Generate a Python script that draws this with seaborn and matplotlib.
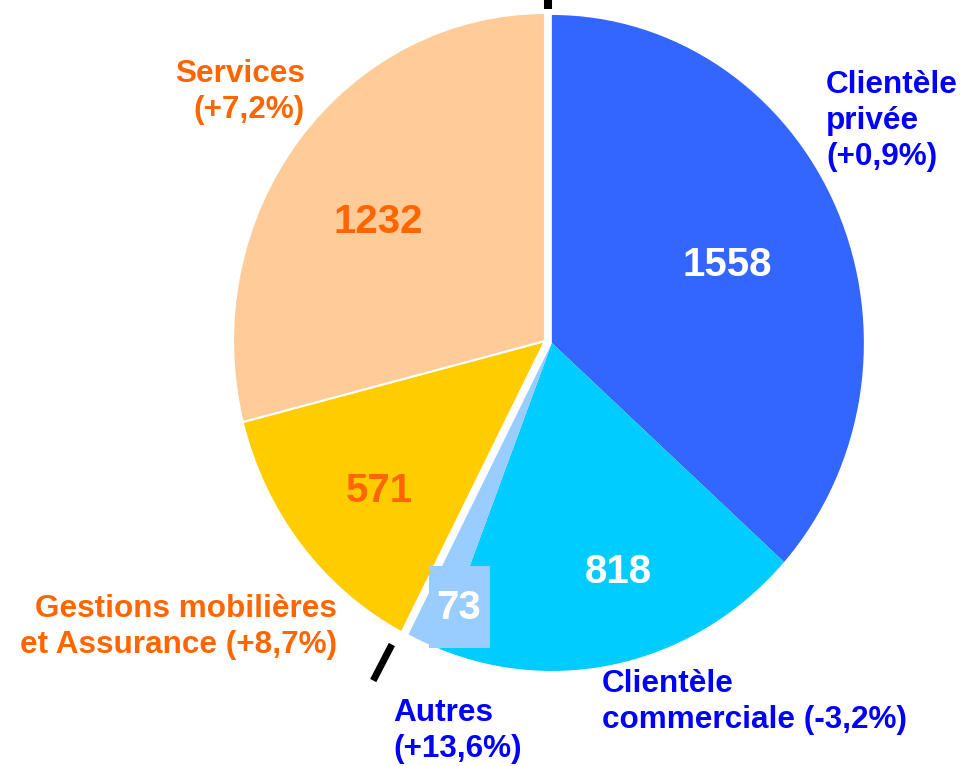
import matplotlib
matplotlib.use("Agg")
import numpy as np
import matplotlib.pyplot as plt
import seaborn as sns
from matplotlib.patches import Rectangle

# --- data ---
segments = ["Clientèle privée", "Clientèle commerciale", "Autres",
            "Gestions mobilières et Assurance", "Services"]
values = [1558, 818, 73, 571, 1232]
labels = ["Clientèle\nprivée\n(+0,9%)",
          "Clientèle\ncommerciale (-3,2%)",
          "Autres\n(+13,6%)",
          "Gestions mobilières\net Assurance (+8,7%)",
          "Services\n(+7,2%)"]
colors = ["#3366FF", "#00CCFF", "#99CCFF", "#FFCC00", "#FFCC99"]
label_colors = ["#0000FF", "#0000FF", "#0000FF", "#FF6600", "#FF6600"]
value_colors = ["white", "white", "white", "#FF6600", "#FF6600"]

# --- geometry (pixels of the 967x766 picture) ---
W, H = 967, 766
CX, CY, RX, RY = 545, 341, 312, 328
SHIFT = (0.022, -0.006)   # right half of the pie is pulled a little away


def px(x, y):
    return (x - CX) / RX, -(y - CY) / RY


sns.set_theme(style="white")
plt.rcParams['font.family'] = ['Liberation Sans', 'DejaVu Sans']

fig = plt.figure(figsize=(W / 100, H / 100), dpi=100)
ax = fig.add_axes([0, 0, 1, 1])

wedges, _ = ax.pie(values, colors=colors, startangle=90, counterclock=False,
                   wedgeprops=dict(linewidth=0))
for w in wedges[:3]:
    w.set_center(SHIFT)
for w in wedges[3:]:
    w.set_edgecolor("white")
    w.set_linewidth(1.5)

ax.set_aspect("auto")
x0, y0 = px(0, H)
x1, y1 = px(W, 0)
ax.set_xlim(x0, x1)
ax.set_ylim(y0, y1)
ax.axis("off")

# black split marks at both ends of the gap
cum = np.cumsum(values) / np.sum(values)
ox, oy = SHIFT[0] / 2, SHIFT[1] / 2
for frac, tilt, r0, r1, lw in [(0.0, 0.0, 1.015, 1.2, 5.8),
                               (cum[2], -1.2, 1.05, 1.175, 5.0)]:
    th = np.deg2rad(90 - 360 * frac + tilt)
    ax.plot([ox + r0 * np.cos(th), ox + r1 * np.cos(th)],
            [oy + r0 * np.sin(th), oy + r1 * np.sin(th)],
            color="black", lw=lw, solid_capstyle="butt", clip_on=True)

# box behind "73"
bx0, by0 = px(429, 648)
bx1, by1 = px(490, 566)
ax.add_patch(Rectangle((bx0, by0), bx1 - bx0, by1 - by0,
                       facecolor=colors[2], edgecolor="none", zorder=3))

# value labels (center x, baseline y)
value_pos = [(727, 276), (618, 583), (459, 619), (379, 502), (378, 233)]
for v, (x, y), c in zip(values, value_pos, value_colors):
    tx, ty = px(x, y)
    ax.text(tx, ty, str(v), ha="center", va="baseline", color=c,
            fontsize=29, fontweight="bold", zorder=4)

# segment labels (anchor x, last-line baseline y, alignment)
label_pos = [(826, 165, "left"), (602, 728, "left"), (393, 757, "left"),
             (337, 653, "right"), (305, 118, "right")]
for lab, (x, y, ha), c in zip(labels, label_pos, label_colors):
    tx, ty = px(x, y)
    ax.text(tx, ty, lab, ha=ha, va="baseline", multialignment=ha, color=c,
            fontsize=22.7, fontweight="bold", linespacing=1.25, zorder=4)

fig.savefig("out.png", dpi=100)
